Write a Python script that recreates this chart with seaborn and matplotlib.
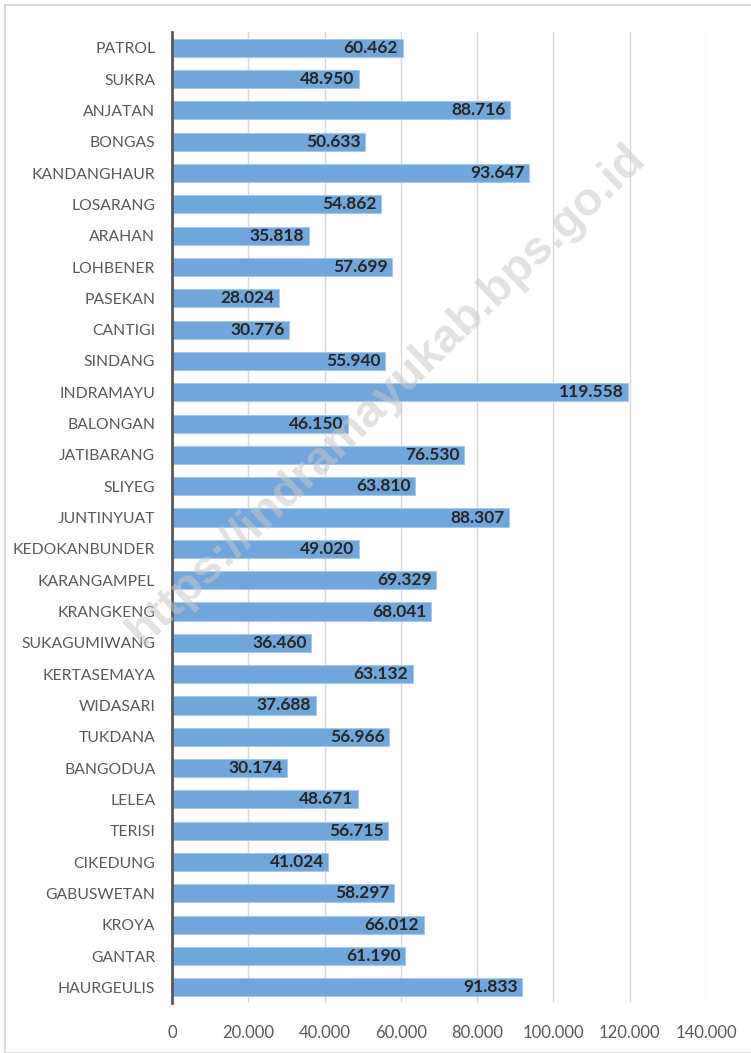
import matplotlib
matplotlib.use("Agg")
import matplotlib.pyplot as plt
import seaborn as sns
import pandas as pd
from matplotlib.patches import Rectangle

# data (kecamatan, top to bottom as in the picture)
districts = ["PATROL", "SUKRA", "ANJATAN", "BONGAS", "KANDANGHAUR", "LOSARANG",
             "ARAHAN", "LOHBENER", "PASEKAN", "CANTIGI", "SINDANG", "INDRAMAYU",
             "BALONGAN", "JATIBARANG", "SLIYEG", "JUNTINYUAT", "KEDOKANBUNDER",
             "KARANGAMPEL", "KRANGKENG", "SUKAGUMIWANG", "KERTASEMAYA", "WIDASARI",
             "TUKDANA", "BANGODUA", "LELEA", "TERISI", "CIKEDUNG", "GABUSWETAN",
             "KROYA", "GANTAR", "HAURGEULIS"]
values = [60462, 48950, 88716, 50633, 93647, 54862, 35818, 57699, 28024, 30776,
          55940, 119558, 46150, 76530, 63810, 88307, 49020, 69329, 68041, 36460,
          63132, 37688, 56966, 30174, 48671, 56715, 41024, 58297, 66012, 61190,
          91833]
x_ticks = [0, 20000, 40000, 60000, 80000, 100000, 120000, 140000]
x_tick_labels = ["0", "20.000", "40.000", "60.000", "80.000", "100.000", "120.000", "140.000"]

df = pd.DataFrame({"district": districts, "value": values})

sns.set_theme(style="white")
plt.rcParams["font.family"] = ["Lato", "DejaVu Sans"]

fig = plt.figure(figsize=(7.51, 10.53), dpi=100)
ax = fig.add_axes([0.229, 0.0475, 0.711, 0.922])

sns.barplot(data=df, x="value", y="district", orient="h", color="#6fa6db",
            width=0.58, edgecolor="#a9c9ea", linewidth=0.8, saturation=1, ax=ax)

ax.set_xlim(0, 140000)
ax.set_xticks(x_ticks)
ax.set_xticklabels(x_tick_labels)
ax.set_xlabel("")
ax.set_ylabel("")
ax.grid(axis="x", color="#d9d9d9", linewidth=1)
ax.set_axisbelow(True)
for s in ["top", "right", "bottom"]:
    ax.spines[s].set_visible(False)
ax.spines["left"].set_color("#595959")
ax.spines["left"].set_linewidth(2)
ax.tick_params(axis="y", length=0, pad=12, labelsize=11.3, labelcolor="#595959")
ax.tick_params(axis="x", length=0, pad=16, labelsize=12, labelcolor="#595959")

# value labels inside bar end
for i, v in enumerate(values):
    lbl = f"{v:,}".replace(",", ".")
    ax.text(v - 1200, i, lbl, ha="right", va="center", fontsize=12.5,
            fontweight="bold", color="#262626")

# watermark
fig.text(0.515, 0.625, "https://indramayukab.bps.go.id", rotation=44,
         ha="center", va="center", fontsize=34, fontweight="bold",
         color="#c8c8c8", alpha=0.55, family=["Liberation Sans", "DejaVu Sans"])

# outer chart border
fig.patches.append(Rectangle((5 / 751, 0), 1, 1 - 5 / 1053, transform=fig.transFigure,
                             fill=False, edgecolor="#d9d9d9", linewidth=1.5))

fig.savefig("out.png", dpi=100)
